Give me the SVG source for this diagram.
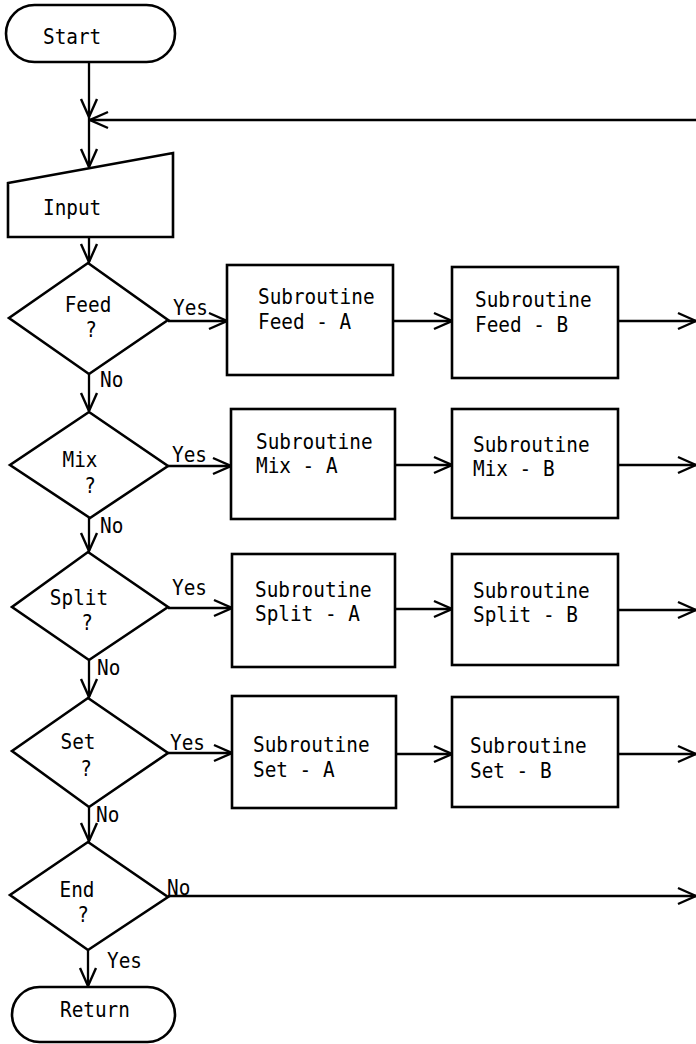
<svg xmlns="http://www.w3.org/2000/svg" width="696" height="1044" viewBox="0 0 696 1044">
  <style>
    .shape { fill: #fff; stroke: #000; stroke-width: 2.6; stroke-linejoin: miter; }
    .conn { fill: none; stroke: #000; stroke-width: 2.3; }
    .lbl { font-family: "DejaVu Sans Mono", "Liberation Mono", monospace; font-size: 22px; fill: #000; }
    .mid { text-anchor: middle; }
  </style>
  <defs>
    <marker id="arrow" viewBox="-20 -10 22 20" refX="0" refY="0" markerWidth="22" markerHeight="20" markerUnits="userSpaceOnUse" orient="auto">
      <path d="M-18,-8 L0,0 L-18,8" fill="none" stroke="#000" stroke-width="2.4"/>
    </marker>
  </defs>

  <!-- connectors -->
  <g id="connectors" class="conn">
    <path d="M89,62 V117" marker-end="url(#arrow)"/>
    <path d="M89,117 V167" marker-end="url(#arrow)"/>
    <path d="M696,120 H90" marker-end="url(#arrow)"/>
    <path d="M89,237 V262" marker-end="url(#arrow)"/>
    <path d="M89,374 V411" marker-end="url(#arrow)"/>
    <path d="M89,518 V551" marker-end="url(#arrow)"/>
    <path d="M89,660 V697" marker-end="url(#arrow)"/>
    <path d="M89,807 V841" marker-end="url(#arrow)"/>
    <path d="M88,950 V986" marker-end="url(#arrow)"/>

    <path d="M168,321 H227" marker-end="url(#arrow)"/>
    <path d="M393,321 H452" marker-end="url(#arrow)"/>
    <path d="M618,321 H696" marker-end="url(#arrow)"/>

    <path d="M168,466 H231" marker-end="url(#arrow)"/>
    <path d="M395,465 H452" marker-end="url(#arrow)"/>
    <path d="M618,465 H696" marker-end="url(#arrow)"/>

    <path d="M168,608 H232" marker-end="url(#arrow)"/>
    <path d="M395,609 H452" marker-end="url(#arrow)"/>
    <path d="M618,610 H696" marker-end="url(#arrow)"/>

    <path d="M168,753 H232" marker-end="url(#arrow)"/>
    <path d="M396,754 H452" marker-end="url(#arrow)"/>
    <path d="M618,754 H696" marker-end="url(#arrow)"/>

    <path d="M168,896 H696" marker-end="url(#arrow)"/>
  </g>

  <!-- branch labels (narrowed monospace) -->
  <g id="branch-labels" class="lbl">
    <text transform="translate(173,315) scale(0.88 1)">Yes</text>
    <text transform="translate(100,387) scale(0.88 1)">No</text>
    <text transform="translate(172,462) scale(0.88 1)">Yes</text>
    <text transform="translate(100,533) scale(0.88 1)">No</text>
    <text transform="translate(172,595) scale(0.88 1)">Yes</text>
    <text transform="translate(97,675) scale(0.88 1)">No</text>
    <text transform="translate(170,750) scale(0.88 1)">Yes</text>
    <text transform="translate(96,822) scale(0.88 1)">No</text>
    <text transform="translate(167,895) scale(0.88 1)">No</text>
    <text transform="translate(107,968) scale(0.88 1)">Yes</text>
  </g>

  <!-- terminals and input -->
  <g id="start">
    <rect class="shape" x="6" y="5" width="169" height="57" rx="28.5"/>
    <text class="lbl" transform="translate(43,44) scale(0.88 1)">Start</text>
  </g>
  <g id="input">
    <polygon class="shape" points="8,183 173,153 173,237 8,237"/>
    <text class="lbl" transform="translate(43,215) scale(0.88 1)">Input</text>
  </g>

  <!-- decisions -->
  <g id="feed-decision">
    <polygon class="shape" points="88,263 168,320 89,374 9,318"/>
    <text class="lbl mid" transform="translate(88,312) scale(0.88 1)">Feed</text>
    <text class="lbl mid" transform="translate(91,337) scale(0.88 1)">?</text>
  </g>
  <g id="mix-decision">
    <polygon class="shape" points="89,412 168,466 90,518 10,465"/>
    <text class="lbl mid" transform="translate(80,467) scale(0.88 1)">Mix</text>
    <text class="lbl mid" transform="translate(90,493) scale(0.88 1)">?</text>
  </g>
  <g id="split-decision">
    <polygon class="shape" points="88,552 168,607 89,660 12,607"/>
    <text class="lbl mid" transform="translate(79,605) scale(0.88 1)">Split</text>
    <text class="lbl mid" transform="translate(87,630) scale(0.88 1)">?</text>
  </g>
  <g id="set-decision">
    <polygon class="shape" points="88,698 168,753 89,807 12,751"/>
    <text class="lbl mid" transform="translate(78,749) scale(0.88 1)">Set</text>
    <text class="lbl mid" transform="translate(86,776) scale(0.88 1)">?</text>
  </g>
  <g id="end-decision">
    <polygon class="shape" points="88,842 168,897 88,950 10,895"/>
    <text class="lbl mid" transform="translate(77,897) scale(0.88 1)">End</text>
    <text class="lbl mid" transform="translate(83,922) scale(0.88 1)">?</text>
  </g>

  <!-- subroutines -->
  <g id="feed-a">
    <rect class="shape" x="227" y="265" width="166" height="110"/>
    <text class="lbl" transform="translate(258,304) scale(0.88 1)">Subroutine</text>
    <text class="lbl" transform="translate(258,329) scale(0.88 1)">Feed - A</text>
  </g>
  <g id="feed-b">
    <rect class="shape" x="452" y="267" width="166" height="111"/>
    <text class="lbl" transform="translate(475,307) scale(0.88 1)">Subroutine</text>
    <text class="lbl" transform="translate(475,332) scale(0.88 1)">Feed - B</text>
  </g>
  <g id="mix-a">
    <rect class="shape" x="231" y="409" width="164" height="110"/>
    <text class="lbl" transform="translate(256,449) scale(0.88 1)">Subroutine</text>
    <text class="lbl" transform="translate(256,473) scale(0.88 1)">Mix - A</text>
  </g>
  <g id="mix-b">
    <rect class="shape" x="452" y="409" width="166" height="109"/>
    <text class="lbl" transform="translate(473,452) scale(0.88 1)">Subroutine</text>
    <text class="lbl" transform="translate(473,476) scale(0.88 1)">Mix - B</text>
  </g>
  <g id="split-a">
    <rect class="shape" x="232" y="554" width="163" height="113"/>
    <text class="lbl" transform="translate(255,597) scale(0.88 1)">Subroutine</text>
    <text class="lbl" transform="translate(255,621) scale(0.88 1)">Split - A</text>
  </g>
  <g id="split-b">
    <rect class="shape" x="452" y="554" width="166" height="111"/>
    <text class="lbl" transform="translate(473,598) scale(0.88 1)">Subroutine</text>
    <text class="lbl" transform="translate(473,622) scale(0.88 1)">Split - B</text>
  </g>
  <g id="set-a">
    <rect class="shape" x="232" y="696" width="164" height="112"/>
    <text class="lbl" transform="translate(253,752) scale(0.88 1)">Subroutine</text>
    <text class="lbl" transform="translate(253,777) scale(0.88 1)">Set - A</text>
  </g>
  <g id="set-b">
    <rect class="shape" x="452" y="697" width="166" height="110"/>
    <text class="lbl" transform="translate(470,753) scale(0.88 1)">Subroutine</text>
    <text class="lbl" transform="translate(470,778) scale(0.88 1)">Set - B</text>
  </g>

  <g id="return">
    <rect class="shape" x="12" y="987" width="163" height="55" rx="27.5"/>
    <text class="lbl" transform="translate(60,1017) scale(0.88 1)">Return</text>
  </g>
</svg>
